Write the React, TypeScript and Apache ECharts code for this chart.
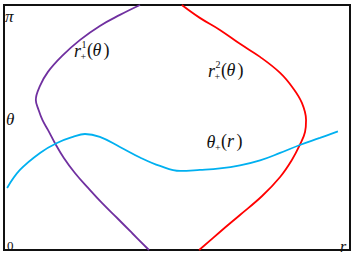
import React, { useEffect, useRef } from "react";
import * as echarts from "echarts";

// r in [0,1], θ in [0,π]
const r1R = [0.393, 0.335, 0.277, 0.22, 0.168, 0.127, 0.104, 0.092, 0.1, 0.111, 0.127, 0.147, 0.173, 0.205, 0.243, 0.283, 0.327, 0.37, 0.419];
const r1T = [3.14, 3.013, 2.872, 2.693, 2.488, 2.283, 2.103, 1.923, 1.795, 1.667, 1.539, 1.372, 1.18, 0.987, 0.795, 0.603, 0.41, 0.218, 0.0];

const r2R = [0.514, 0.566, 0.624, 0.682, 0.74, 0.798, 0.835, 0.861, 0.873, 0.87, 0.855, 0.832, 0.798, 0.746, 0.682, 0.624, 0.564];
const r2T = [3.14, 2.975, 2.821, 2.642, 2.475, 2.27, 2.077, 1.885, 1.667, 1.513, 1.346, 1.154, 0.936, 0.692, 0.449, 0.231, 0.0];

const thR = [0.009, 0.046, 0.104, 0.153, 0.199, 0.234, 0.277, 0.335, 0.393, 0.451, 0.509, 0.566, 0.624, 0.682, 0.74, 0.798, 0.855, 0.913, 0.965];
const thT = [0.795, 1.026, 1.244, 1.372, 1.449, 1.487, 1.449, 1.321, 1.186, 1.077, 1.013, 1.026, 1.045, 1.084, 1.148, 1.244, 1.346, 1.436, 1.52];

const axisTicks = { thetaTop: "π", thetaMid: "θ", origin: "0", rEnd: "r" };

const SERIF = '"Liberation Serif", "DejaVu Serif", serif';
const zip = (a: number[], b: number[]) => a.map((v, i) => [v, b[i]]);

export default function App() {
  const ref = useRef<HTMLDivElement>(null);
  useEffect(() => {
    if (!ref.current) return;
    const chart = echarts.init(ref.current, undefined, { renderer: "svg" });
    const it = (size: number) => `italic ${size}px ${SERIF}`;
    const nm = (size: number) => `${size}px ${SERIF}`;
    const txt = (text: string, x: number, y: number, font: string, align = "left") => ({
      type: "text",
      x,
      y,
      silent: true,
      z: 10,
      style: { text, font, fill: "#111", align, verticalAlign: "middle" },
    });
    // label: base letter with sup/sub, then (arg) with explicit glyph positions
    const label = (
      base: string,
      sup: string | null,
      arg: string,
      x: number,
      y: number,
      subX: number,
      openX: number,
      argX: number,
      closeX: number
    ) => {
      const out: any[] = [];
      out.push(txt(base, x, y + 1, it(18)));
      if (sup) out.push(txt(sup, subX + 1, y - 6, nm(10)));
      out.push(txt("+", subX, y + 6, nm(10)));
      out.push(txt("(", openX, y, nm(18)));
      out.push(txt(arg, argX, y, it(18), "center"));
      out.push(txt(")", closeX, y, nm(18)));
      return out;
    };
    chart.setOption({
      animation: false,
      backgroundColor: "#fff",
      grid: { left: 4, right: 4, top: 5, bottom: 4, show: true, borderColor: "#111", borderWidth: 2, backgroundColor: "transparent" },
      xAxis: { type: "value", min: 0, max: 1, axisLine: { show: false }, axisTick: { show: false }, axisLabel: { show: false }, splitLine: { show: false } },
      yAxis: { type: "value", min: 0, max: 3.14, axisLine: { show: false }, axisTick: { show: false }, axisLabel: { show: false }, splitLine: { show: false } },
      series: [
        {
          type: "line",
          data: zip(r1R, r1T),
          smooth: 0.4,
          showSymbol: false,
          lineStyle: { color: "#7030a0", width: 1.8 },
        },
        {
          type: "line",
          data: zip(r2R, r2T),
          smooth: 0.4,
          showSymbol: false,
          lineStyle: { color: "#ff0000", width: 1.8 },
        },
        {
          type: "line",
          data: zip(thR, thT),
          smooth: 0.4,
          showSymbol: false,
          lineStyle: { color: "#00b0f0", width: 1.8 },
        },
      ],
      graphic: [
        txt(axisTicks.thetaTop, 5, 16, it(17)),
        txt(axisTicks.thetaMid, 6, 119, it(17)),
        txt(axisTicks.origin, 7, 245, nm(13)),
        txt(axisTicks.rEnd, 340, 246, it(16)),
        ...label("r", "1", "θ", 74, 50, 80.5, 87, 97, 103.5),
        ...label("r", "2", "θ", 208, 70, 214.5, 221, 231, 237.5),
        ...label("θ", null, "r", 206.5, 141, 215, 221, 230.5, 236.5),
      ],
    });
    return () => chart.dispose();
  }, []);
  return <div ref={ref} style={{ position: "fixed", left: 0, top: 0, width: 354, height: 254 }} />;
}
